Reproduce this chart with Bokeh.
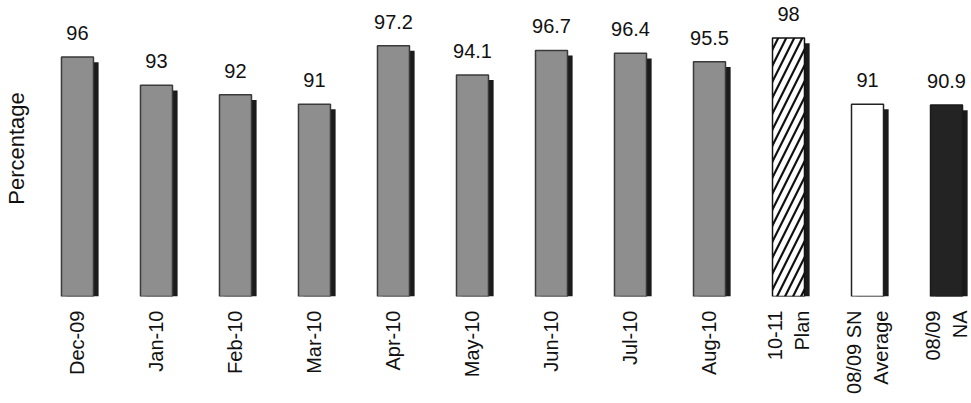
import math
from bokeh.plotting import figure
from bokeh.models import ColumnDataSource, Range1d, FixedTicker, LabelSet
from bokeh.core.properties import value
from bokeh.embed import file_html
from bokeh.resources import INLINE

# ---- data ----
categories = ["Dec-09", "Jan-10", "Feb-10", "Mar-10", "Apr-10", "May-10", "Jun-10",
              "Jul-10", "Aug-10", "10-11\nPlan", "08/09 SN\nAverage", "08/09\nNA"]
percentages = [96, 93, 92, 91, 97.2, 94.1, 96.7, 96.4, 95.5, 98, 91, 90.9]
value_labels = ["96", "93", "92", "91", "97.2", "94.1", "96.7", "96.4", "95.5", "98", "91", "90.9"]
kinds = ["month"] * 9 + ["plan", "sn", "na"]

# ---- styling ----
FONT = "Liberation Sans"
Y_START, Y_END = 70.6, 101.99
BAR_W = 0.405
SH_DX, SH_DY = 0.065, 0.55
face_colors = {"month": "#8e8e8e", "plan": "#ffffff", "sn": "#ffffff", "na": "#232323"}

xs = list(range(len(categories)))

p = figure(frame_width=923, frame_height=296, output_backend="svg", toolbar_location=None,
           x_range=Range1d(-0.354, 11.329), y_range=Range1d(Y_START, Y_END),
           min_border_left=48, min_border_right=0, min_border_top=0, min_border_bottom=0)
p.outline_line_color = None
p.grid.visible = False
p.background_fill_color = "white"

# shadows
sh = ColumnDataSource(dict(x=[x + SH_DX for x in xs], top=[v - SH_DY for v in percentages]))
p.vbar(x="x", top="top", bottom=Y_START, width=BAR_W, source=sh,
       fill_color="#1b1b1b", line_color=None)

# faces
def sel(k):
    idx = [i for i, kk in enumerate(kinds) if kk == k]
    return ColumnDataSource(dict(x=[xs[i] for i in idx], top=[percentages[i] for i in idx]))

p.vbar(x="x", top="top", bottom=Y_START, width=BAR_W, source=sel("month"),
       fill_color=face_colors["month"], line_color="#3a3a3a", line_width=1.5)
p.vbar(x="x", top="top", bottom=Y_START, width=BAR_W, source=sel("plan"),
       fill_color="white", line_color="#111111", line_width=1.5,
       hatch_pattern="/", hatch_color="#111111", hatch_weight=2.2, hatch_scale=16)
p.vbar(x="x", top="top", bottom=Y_START, width=BAR_W, source=sel("sn"),
       fill_color="white", line_color="#222222", line_width=1.5)
p.vbar(x="x", top="top", bottom=Y_START, width=BAR_W, source=sel("na"),
       fill_color=face_colors["na"], line_color="#1a1a1a", line_width=1.5)

# value labels
lab_src = ColumnDataSource(dict(x=xs, y=percentages, t=value_labels))
p.add_layout(LabelSet(x="x", y="y", text="t", source=lab_src, y_offset=17,
                      text_align="center", text_baseline="alphabetic",
                      text_font=value(FONT), text_font_size=value("20px"),
                      text_color="#111111"))

# x axis (category labels)
p.xaxis.ticker = FixedTicker(ticks=xs)
p.xaxis.major_label_overrides = {i: c for i, c in zip(xs, categories)}
p.xaxis.major_label_orientation = math.pi / 2
p.xaxis.axis_line_color = None
p.xaxis.major_tick_line_color = None
p.xaxis.minor_tick_line_color = None
p.xaxis.major_tick_out = 0
p.xaxis.major_label_standoff = 14
p.xaxis.major_label_text_font = FONT
p.xaxis.major_label_text_font_size = "20px"
p.xaxis.major_label_text_color = "#111111"

# y axis (title only)
p.yaxis.ticker = FixedTicker(ticks=[])
p.yaxis.axis_line_color = None
p.yaxis.major_tick_line_color = None
p.yaxis.minor_tick_line_color = None
p.yaxis.major_tick_out = 0
p.yaxis.major_label_standoff = 0
p.yaxis.axis_label = "Percentage"
p.yaxis.axis_label_standoff = 21
p.yaxis.axis_label_text_font = FONT
p.yaxis.axis_label_text_font_size = "22px"
p.yaxis.axis_label_text_font_style = "normal"
p.yaxis.axis_label_text_color = "#111111"

open("out.html", "w").write(file_html(p, INLINE))
